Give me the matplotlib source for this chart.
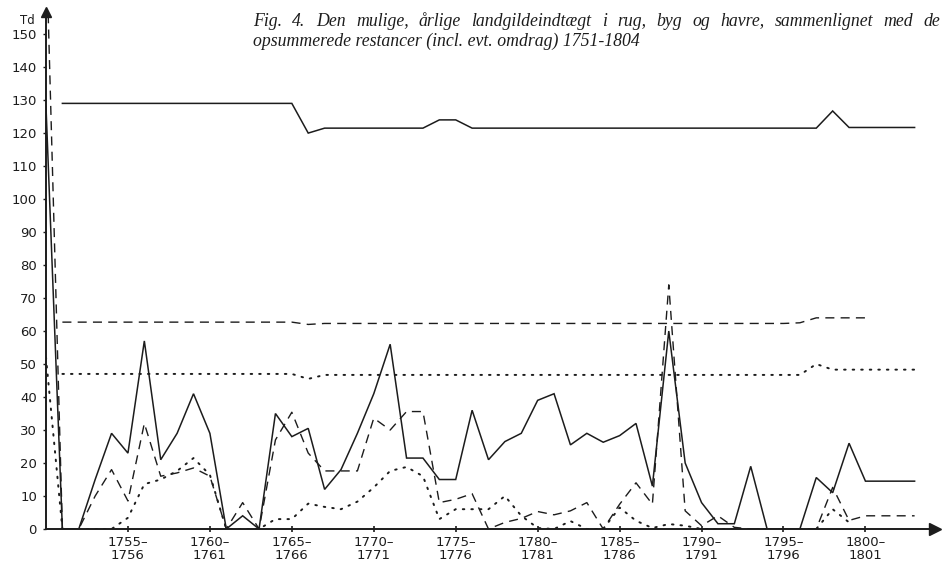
import numpy as np
import matplotlib
matplotlib.use("Agg")
import matplotlib.pyplot as plt

nan = np.nan

# ---------------- data ----------------
years = list(range(1750, 1804))  # 1750 .. 1803

# upper (possible annual landgilde income)
income_solid = [nan] + [129] * 15 + [120] + [121.5] * 7 + [124, 124] + [121.5] * 22 + [126.7] + [121.7] * 5
income_dashed = [nan] + [62.7] * 15 + [62] + [62.3] * 29 + [62.5] + [64] * 4 + [nan] * 3
income_dotted = [nan] + [47] * 15 + [45.5] + [46.7] * 30 + [50] + [48.3] * 6

# lower (accumulated arrears)
arrears_solid = [128, 0, 0, 15, 29, 23, 57, 21, 29, 41, 29, 0, 4, 0, 35, 28, 30.5, 12, 18, 29,
                 41, 56, 21.5, 21.5, 15, 15, 36, 21, 26.5, 29, 39, 41, 25.5, 29, 26.3, 28.3,
                 32, 13, 60, 20, 8, 1.6, 1.6, 19, 0, 0, 0, 15.6, 11, 26, 14.5, 14.5, 14.5, 14.5]
arrears_dashed = [180, 0, 0, 10, 18, 8.5, 32, 16, 17, 18.5, 16, 0, 8, 0, 27, 35.4, 23, 17.6, 17.6, 17.6,
                  33.6, 30, 35.6, 35.6, 8, 9, 10.7, 0, 2, 3.2, 5.3, 4.3, 5.5, 8, 0, 7.5,
                  14, 7.5, 74, 5.5, 1, 4, 0.5, 0, 0, 0, 0, 0, 12.6, 2.6, 4, 4, 4, 4]
arrears_dotted = [52, 0, 0, 0, 0, 3.4, 13.6, 15, 17.6, 21.5, 16.4, 0, 0, 0, 3, 3, 7.7, 6.7, 6, 8.3,
                  12.6, 17.6, 18.8, 16, 3, 6, 6, 6, 10, 4, 0.3, 0, 2.4, 0, 0, 6.5,
                  2.5, 0.3, 1.5, 1, 0, 0, 0, 0, 0, 0, 0, 0, 6, 2, nan, nan, nan, nan]

ytick_values = list(range(0, 160, 10))
xtick_years = [1755, 1760, 1765, 1770, 1775, 1780, 1785, 1790, 1795, 1800]
xtick_labels = [f"{y}–\n{y + 1}" for y in xtick_years]

title_line1 = "Fig. 4. Den mulige, årlige landgildeindtægt i rug, byg og havre, sammenlignet med de"
title_line2 = "opsummerede restancer (incl. evt. omdrag) 1751-1804"

# ---------------- figure ----------------
W, H = 943, 564
fig = plt.figure(figsize=(W / 100, H / 100), dpi=100)
fig.patch.set_facecolor("white")
ax = fig.add_axes([46 / W, (H - 529) / H, (931 - 46) / W, (529 - 12) / H])
ax.set_xlim(1750, 1804)
ax.set_ylim(0, 156.7)

ink = "#1c1c1c"
solid_kw = dict(color=ink, lw=1.1, solid_joinstyle="miter")
dash_kw = dict(color=ink, lw=1.0, linestyle=(0, (6.5, 4.5)))
dot_kw = dict(color=ink, lw=1.4, linestyle=(0, (0.8, 3.6)), dash_capstyle="round")

ax.plot(years, income_solid, **solid_kw)
ax.plot(years, income_dashed, **dash_kw)
ax.plot(years, income_dotted, **dot_kw)
ax.plot(years, arrears_solid, **solid_kw)
ax.plot(years, arrears_dashed, **dash_kw)
ax.plot(years, arrears_dotted, **dot_kw)

for s in ("top", "right"):
    ax.spines[s].set_visible(False)
for s in ("left", "bottom"):
    ax.spines[s].set_color(ink)
    ax.spines[s].set_linewidth(1.4)

# arrow heads
ax.plot(1.004, 0, marker=">", color=ink, markersize=8, transform=ax.transAxes, clip_on=False)
ax.plot(0, 1.0, marker="^", color=ink, markersize=7, transform=ax.transAxes, clip_on=False)

tick_font = dict(family="DejaVu Sans", size=9.5)
ax.set_yticks(ytick_values)
ax.set_yticklabels([str(v) for v in ytick_values], fontdict=tick_font, color=ink)
ax.tick_params(axis="y", direction="out", length=2.5, width=1, color=ink, pad=4)
ax.set_xticks(xtick_years)
ax.set_xticklabels(xtick_labels, fontdict=tick_font, color=ink, linespacing=1.0)
ax.tick_params(axis="x", direction="inout", length=4, width=1.2, color=ink, pad=3)

fig.text(20 / W, 1 - 21 / H, "Td", fontsize=8.5, family="DejaVu Sans", color=ink,
         ha="left", va="center")

# title: first line justified between x=253 and x=940 px, second line natural
title_kw = dict(family="Liberation Serif", style="italic", fontsize=12.8, color=ink,
                ha="left", va="center")
renderer = fig.canvas.get_renderer()
words = title_line1.split(" ")
left_px, right_px = 253, 940
word_texts = [fig.text(0, 1 - 21 / H, w, **title_kw) for w in words]
widths = [t.get_window_extent(renderer=renderer).width for t in word_texts]
gap = (right_px - left_px - sum(widths)) / (len(words) - 1)
xpos = left_px
for t, wdt in zip(word_texts, widths):
    t.set_x(xpos / W)
    xpos += wdt + gap
fig.text(left_px / W, 1 - 41 / H, title_line2, **title_kw)

fig.savefig("out.png", dpi=100, facecolor="white")
